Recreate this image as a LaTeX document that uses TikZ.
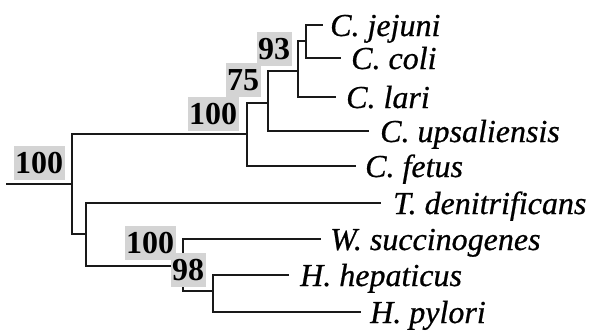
\documentclass[tikz,border=0pt]{standalone}
\usepackage{fontspec}
\setmainfont{Liberation Serif}
\newfontfamily\taxafont[FakeBold=0.6]{Liberation Serif Italic}
\begin{document}
\begin{tikzpicture}[x=1pt,y=-1pt,
  branch/.style={line width=2.1pt, draw=black!90, line cap=rect},
  boot/.style={fill=black!17, inner xsep=1.5pt, inner ysep=0pt,
    minimum height=34pt, text depth=0pt,
    font=\fontsize{32}{32}\selectfont\bfseries},
  taxon/.style={anchor=base west, inner sep=0pt,
    font=\fontsize{32}{32}\selectfont\taxafont}]
\useasboundingbox[fill=white] (0,0) rectangle (593,333);

% internal nodes (where each stem joins its vertical bar)
\coordinate (r0) at (7,184);
\coordinate (R) at (72,184);
\coordinate (A) at (247,134);
\coordinate (B) at (268,103);
\coordinate (C) at (298,71);
\coordinate (D) at (306,41);
\coordinate (E) at (86,234);
\coordinate (F) at (183,266);
\coordinate (G) at (213,291);

% branch tips
\coordinate (jej) at (322,25);
\coordinate (col) at (340,58);
\coordinate (lar) at (335,97);
\coordinate (ups) at (368,131);
\coordinate (fet) at (355,166);
\coordinate (tde) at (380,203);
\coordinate (wsu) at (320,239);
\coordinate (hhe) at (288,275);
\coordinate (hpy) at (360,312);

% branches
\draw[branch] (r0) -- (R);
\draw[branch] (R) |- (A);
\draw[branch] (R) |- (E);
\draw[branch] (A) |- (B);
\draw[branch] (A) |- (fet);
\draw[branch] (B) |- (C);
\draw[branch] (B) |- (ups);
\draw[branch] (C) |- (D);
\draw[branch] (C) |- (lar);
\draw[branch] (D) |- (jej);
\draw[branch] (D) |- (col);
\draw[branch] (E) |- (tde);
\draw[branch] (E) |- (F);
\draw[branch] (F) |- (wsu);
\draw[branch] (F) |- (G);
\draw[branch] (G) |- (hhe);
\draw[branch] (G) |- (hpy);

% bootstrap values
\node[boot] (bR) at (39,163) {100};
\node[boot] (bA) at (213,114) {100};
\node[boot] (bB) at (243,80) {75};
\node[boot] (bC) at (274,49) {93};
\node[boot] (bF) at (150,243) {100};
\node[boot] (bG) at (188,270) {98};

% taxa
\node[taxon] (tjej) at (330,36) {C. jejuni};
\node[taxon] (tcol) at (351,69) {C. coli};
\node[taxon] (tlar) at (346,108) {C. lari};
\node[taxon] (tups) at (380,142) {C. upsaliensis};
\node[taxon] (tfet) at (365,177) {C. fetus};
\node[taxon] (ttde) at (393,214) {T. denitrificans};
\node[taxon] (twsu) at (330,250) {W. succinogenes};
\node[taxon] (thhe) at (300,286) {H. hepaticus};
\node[taxon] (thpy) at (370,323) {H. pylori};
\end{tikzpicture}
\end{document}
